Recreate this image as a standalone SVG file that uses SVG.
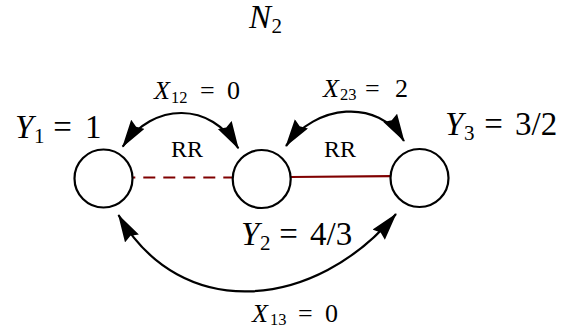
<svg xmlns="http://www.w3.org/2000/svg" width="561" height="331" viewBox="0 0 561 331">
<style>
.node{fill:#fff;stroke:#000;stroke-width:2.2}
.arc{fill:none;stroke:#000;stroke-width:2.2;marker-start:url(#ah);marker-end:url(#ah)}
.rr{stroke:#800000;stroke-width:2.2;fill:none}
.big{font-size:33px}
.mid{font-size:26px}
.lbl{font-size:24px}
.it{font-style:italic}
.s1{font-size:21px}
.s2{font-size:16.5px}
</style>
<defs>
<marker id="ah" markerUnits="userSpaceOnUse" markerWidth="32" markerHeight="18" refX="27" refY="8" orient="auto-start-reverse" viewBox="0 0 32 18">
<path d="M0,0 L28,8 L0,16 L3,8 Z" fill="#000"/>
</marker>
</defs>

<g id="connectors">
<line class="rr" x1="133" y1="177.5" x2="232.5" y2="177.5" stroke-dasharray="12 8" stroke-dashoffset="9.7"/>
<line class="rr" x1="290.7" y1="177" x2="390.7" y2="176.2"/>
<path id="x12" class="arc" d="M122.7,146.7 C153.2,101.5 211.1,101.5 238.3,148.3"/>
<path id="x23" class="arc" d="M286,146 C314.8,104.6 378.2,97.6 404,141"/>
<path id="x13" class="arc" d="M118.5,215 C181,323.8 316,310 396,214"/>
</g>

<g id="node1"><circle class="node" cx="103.5" cy="178.5" r="29"/></g>
<g id="node2"><circle class="node" cx="261.7" cy="179" r="29"/></g>
<g id="node3"><circle class="node" cx="419.5" cy="178" r="29"/></g>

<g id="labels" font-family="'Liberation Serif', 'DejaVu Serif', serif" fill="#000">
<text class="big"><tspan class="it" x="249" y="28.3">N</tspan><tspan class="s1" x="271.5" y="33.3">2</tspan></text>
<text class="big"><tspan class="it" x="15" y="138">Y</tspan><tspan class="s1" x="34" y="143">1</tspan><tspan x="45" y="138"> = </tspan><tspan x="85" y="138">1</tspan></text>
<text class="big"><tspan class="it" x="445" y="135">Y</tspan><tspan class="s1" x="464" y="140">3</tspan><tspan x="476" y="135"> = </tspan><tspan x="515" y="135">3/2</tspan></text>
<text class="big"><tspan class="it" x="241" y="245">Y</tspan><tspan class="s1" x="260" y="250">2</tspan><tspan x="271" y="245"> = </tspan><tspan x="310" y="245">4/3</tspan></text>
<text class="mid"><tspan class="it" x="154" y="99.3">X</tspan><tspan class="s2" x="171" y="102.5">12</tspan><tspan x="193.5" y="99.3"> = </tspan><tspan x="227" y="99.3">0</tspan></text>
<text class="mid"><tspan class="it" x="323" y="97">X</tspan><tspan class="s2" x="340" y="100.2">23</tspan><tspan x="358.5" y="97"> = </tspan><tspan x="395" y="97">2</tspan></text>
<text class="mid"><tspan class="it" x="252" y="321.7">X</tspan><tspan class="s2" x="270" y="324.9">13</tspan><tspan x="291.5" y="321.7"> = </tspan><tspan x="325" y="321.7">0</tspan></text>
<text class="lbl" x="187" y="157" text-anchor="middle">RR</text>
<text class="lbl" x="340" y="157" text-anchor="middle">RR</text>
</g>
</svg>
